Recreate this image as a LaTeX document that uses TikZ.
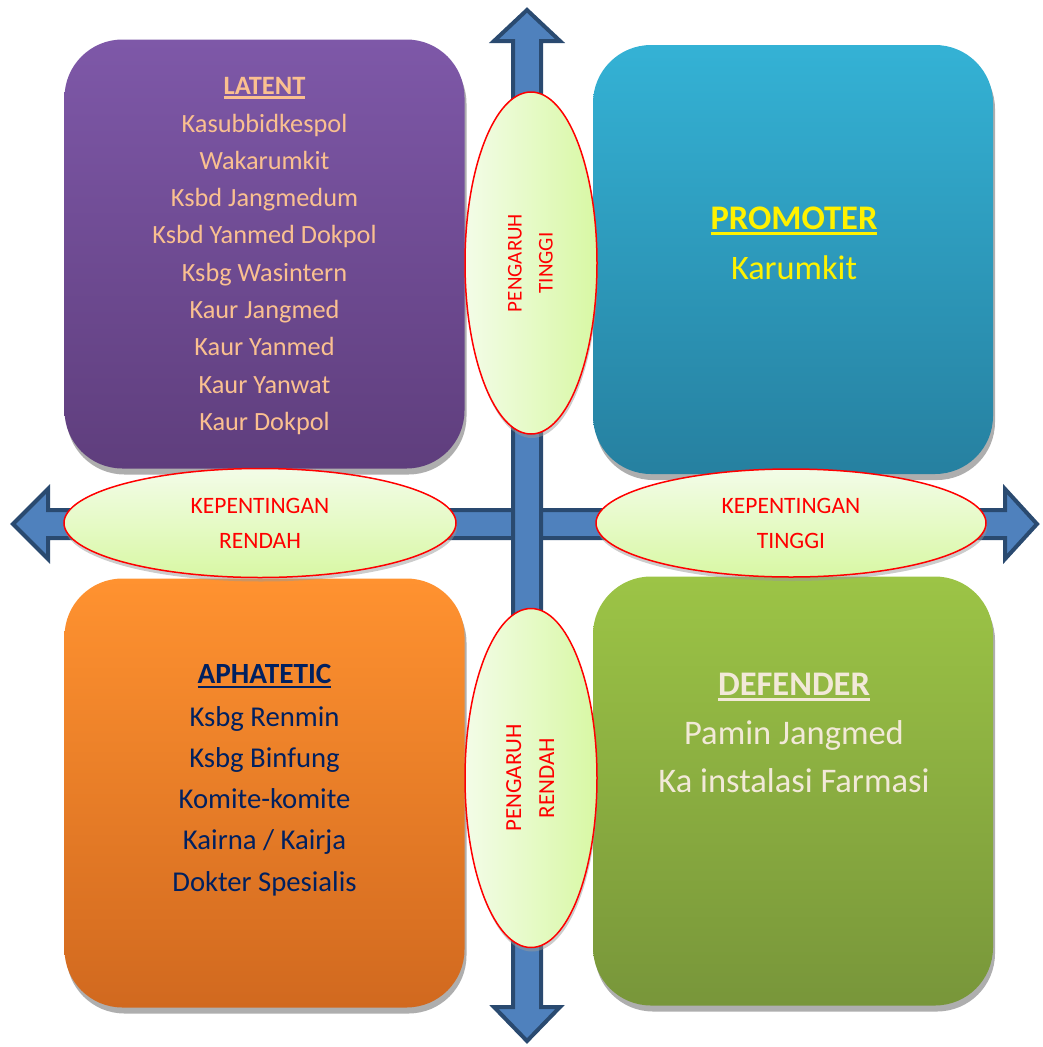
\documentclass[tikz,border=0pt]{standalone}
\usepackage{fontspec}
\setmainfont{Carlito}
\usepackage{graphicx}
\usetikzlibrary{shapes.geometric,shadows,positioning}

\definecolor{latenttop}{HTML}{7E58A8}
\definecolor{latentbot}{HTML}{5F3E7D}
\definecolor{promotop}{HTML}{34B2D5}
\definecolor{promobot}{HTML}{2680A0}
\definecolor{aphatop}{HTML}{FF9230}
\definecolor{aphabot}{HTML}{D1691F}
\definecolor{deftop}{HTML}{9CC446}
\definecolor{defbot}{HTML}{78963A}
\definecolor{latenttxt}{HTML}{FAC090}
\definecolor{aphatxt}{HTML}{002060}
\definecolor{deftxt}{HTML}{F2E9D8}
\definecolor{ovallight}{HTML}{F3FCE8}
\definecolor{ovalgreen}{HTML}{D8F8A4}
\definecolor{axisfill}{HTML}{4F81BD}
\definecolor{axisline}{HTML}{2A4A70}

\newcommand{\titleul}[1]{\setbox0\hbox{#1}\rlap{\rule[-0.17em]{\wd0}{0.08em}}\box0}

\tikzset{
  quadbox/.style={rectangle, rounded corners=58pt, minimum width=400pt, minimum height=429pt,
    drop shadow={shadow xshift=2pt, shadow yshift=-6pt, fill=black!45, opacity=0.7}},
  axisarrow/.style={fill=axisfill, draw=axisline, line width=4pt, line join=miter},
  ovalbox/.style={ellipse, draw=red, line width=1.5pt, inner sep=0pt, text=red, align=center,
    drop shadow={shadow xshift=1pt, shadow yshift=-4pt, fill=black!40, opacity=0.5}},
  quadtxt/.style={anchor=base, inner sep=0pt}
}

\begin{document}
\begin{tikzpicture}[x=1pt, y=-1pt]

    \useasboundingbox (0,0) rectangle (1043,1047);

    \node[quadbox, top color=latenttop, bottom color=latentbot] (latent) at (264.5,254) {};
    \node[quadbox, top color=promotop, bottom color=promobot] (promoter) at (793,259.5) {};
    \node[quadbox, top color=aphatop, bottom color=aphabot] (aphatetic) at (264.5,793) {};
    \node[quadbox, top color=deftop, bottom color=defbot] (defender) at (793,791) {};

    \draw[axisarrow] (48,510) -- (48,489) -- (13,524) -- (48,559) -- (48,538) -- (1005,538)
        -- (1005,559) -- (1037,524) -- (1005,489) -- (1005,510) -- cycle;
    \draw[axisarrow] (513,41) -- (494,41) -- (527,10) -- (560,41) -- (541,41) -- (541,1007)
        -- (560,1007) -- (527,1041) -- (494,1007) -- (513,1007) -- cycle;

    \node[ovalbox, minimum width=132pt, minimum height=342pt, left color=ovallight, right color=ovalgreen,
        font=\fontsize{21}{31}\selectfont] (pengtinggi) at (531,263)
        {\rotatebox{90}{\begin{tabular}{@{}c@{}}PENGARUH\\TINGGI\end{tabular}}};
    \node[ovalbox, minimum width=132pt, minimum height=339pt, left color=ovallight, right color=ovalgreen,
        font=\fontsize{23}{33}\selectfont] (pengrendah) at (531,778)
        {\rotatebox{90}{\begin{tabular}{@{}c@{}}PENGARUH\\RENDAH\end{tabular}}};
    \node[ovalbox, minimum width=392pt, minimum height=109pt, top color=ovallight, bottom color=ovalgreen,
        font=\fontsize{23.5}{35}\selectfont] (kepenrendah) at (260,523) {KEPENTINGAN\\RENDAH};
    \node[ovalbox, minimum width=390pt, minimum height=108pt, top color=ovallight, bottom color=ovalgreen,
        font=\fontsize{23.5}{35}\selectfont] (kepentinggi) at (791,523) {KEPENTINGAN\\TINGGI};

    \node[quadtxt, text=latenttxt, font=\fontsize{26.5}{32}\selectfont\bfseries] (latenttitle) at (264.5,94) {\titleul{LATENT}};
    \foreach \t [count=\i] in {Kasubbidkespol, Wakarumkit, Ksbd Jangmedum, Ksbd Yanmed Dokpol,
        Ksbg Wasintern, Kaur Jangmed, Kaur Yanmed, Kaur Yanwat, Kaur Dokpol}
        \node[quadtxt, text=latenttxt, font=\fontsize{26.3}{32}\selectfont] (lat\i) at (264.5,{132+37.3*(\i-1)}) {\t};

    \node[quadtxt, text=yellow, font=\fontsize{34.5}{40}\selectfont\bfseries] (promotitle) at (794,229) {\titleul{PROMOTER}};
    \node[quadtxt, text=yellow, font=\fontsize{34.3}{40}\selectfont] (promo1) at (794,279) {Karumkit};

    \node[quadtxt, text=aphatxt, font=\fontsize{29.3}{35}\selectfont\bfseries] (aphatitle) at (264.5,683) {\titleul{APHATETIC}};
    \foreach \t [count=\i] in {Ksbg Renmin, Ksbg Binfung, Komite-komite, Kairna / Kairja, Dokter Spesialis}
        \node[quadtxt, text=aphatxt, font=\fontsize{28.7}{35}\selectfont] (aph\i) at (264.5,{726+41.25*(\i-1)}) {\t};

    \node[quadtxt, text=deftxt, font=\fontsize{34.5}{40}\selectfont\bfseries] (deftitle) at (794,695) {\titleul{DEFENDER}};
    \node[quadtxt, text=deftxt, font=\fontsize{34.5}{40}\selectfont] (def1) at (794,744) {Pamin Jangmed};
    \node[quadtxt, text=deftxt, font=\fontsize{34.5}{40}\selectfont] (def2) at (794,792) {Ka instalasi Farmasi};

\end{tikzpicture}
\end{document}
